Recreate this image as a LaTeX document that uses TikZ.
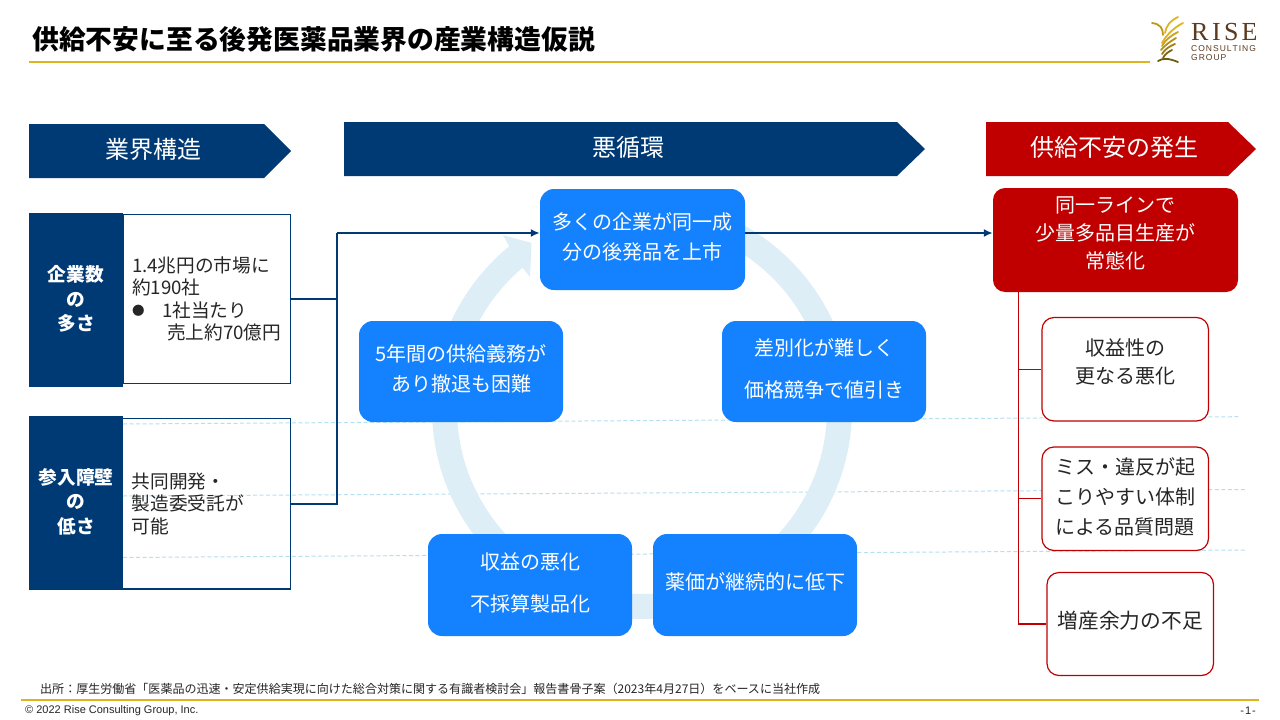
\documentclass[tikz,border=0pt]{standalone}
\usepackage{fontspec}
\setmainfont{Noto Sans CJK JP}
\newfontfamily\lib{Liberation Sans}
\newfontfamily\libs{Liberation Serif}
\usetikzlibrary{arrows.meta}
\definecolor{navy}{HTML}{003A75}
\definecolor{bluebox}{HTML}{1482FF}
\definecolor{redbox}{HTML}{C00000}
\definecolor{ringc}{HTML}{DEEEF7}
\definecolor{gold}{HTML}{E0B41E}
\definecolor{dashc}{HTML}{B5E0F2}
\definecolor{logob}{HTML}{5B3A1E}
\definecolor{ink}{HTML}{262626}
\newcommand\pad[1]{\rule[-#1]{0pt}{#1}}
\newcommand\fs[2]{\fontsize{#1}{#2}\selectfont}
\tikzset{
  x=1pt,y=-1pt,
  goldline/.style={draw=gold,line width=2pt},
  dashline/.style={draw=dashc,line width=1pt,dash pattern=on 4pt off 2.5pt},
  headtxt/.style={text=white,font=\fs{24}{30}},
  darkbox/.style={fill=navy,text=white,minimum width=94pt,inner sep=0pt,align=center,font=\bfseries\fs{18.67}{24.5}},
  whitebox/.style={draw=navy,line width=1.2pt,minimum width=167.5pt,text width=149.5pt,inner xsep=9pt,inner ysep=0pt,align=left,text=ink,font=\fs{18.67}{22.4}},
  cycbox/.style={fill=bluebox,rounded corners=14pt,minimum width=204pt,inner sep=0pt,align=center,text=white},
  redmain/.style={fill=redbox,rounded corners=12pt,minimum width=245pt,minimum height=104pt,inner sep=0pt,align=center,text=white,font=\fs{20}{28}},
  childbox/.style={draw=redbox,fill=white,line width=1.2pt,rounded corners=12pt,minimum width=166.5pt,inner sep=0pt,align=center,text=ink},
  conn/.style={draw=navy,line width=2pt},
  redconn/.style={draw=redbox,line width=1.3pt},
  leaf/.style={draw=#1,line width=1.8pt,line cap=round},
  smalltxt/.style={inner sep=0pt,text=ink},
}
\begin{document}
\begin{tikzpicture}
\useasboundingbox (0,0) rectangle (1280,720);
\fill[white] (0,0) rectangle (1280,720);

% title and rules
\node[anchor=west,inner sep=0pt,font=\bfseries\fs{26.8}{30},text=black] (title) at (32,39) {供給不安に至る後発医薬品業界の産業構造仮説};
\coordinate (g1a) at (29,62); \coordinate (g1b) at (1150,62);
\draw[goldline] (g1a) -- (g1b);
\coordinate (g2a) at (21,700); \coordinate (g2b) at (1259,700);
\draw[goldline] (g2a) -- (g2b);

% logo
\draw[leaf=gold!85!black] (1152,23) .. controls (1160,24) and (1163,28) .. (1163,35);
\draw[leaf=gold] (1178,17) .. controls (1170,21) and (1166,26) .. (1165,33);
\draw[leaf=gold] (1183,23) .. controls (1175,27) and (1167,34) .. (1162,43);
\draw[leaf=gold!90!black] (1178,32) .. controls (1172,35) and (1166,39) .. (1162,46);
\draw[leaf=gold!80!black] (1176,38) .. controls (1171,41) and (1165,45) .. (1161,50);
\draw[leaf=gold!70!black] (1175,44) .. controls (1170,46) and (1165,49) .. (1162,54);
\draw[leaf=gold!55!black] (1172,50) .. controls (1168,52) and (1165,54) .. (1163,58);
\draw[leaf=gold!50!black] (1158,61) .. controls (1163,58) and (1168,58) .. (1178,62);
\node[inner sep=0pt,anchor=west,text=logob,font=\libs\fs{26}{27}] (lrise) at (1191,32) {R\hspace{3.5pt}I\hspace{3.5pt}S\hspace{3pt}E};
\node[inner sep=0pt,anchor=west,text=logob,font=\lib\fs{8.5}{9}] (lcons) at (1191,49) {C\hspace{1pt}O\hspace{1pt}N\hspace{1pt}S\hspace{1pt}U\hspace{1pt}L\hspace{1pt}T\hspace{1pt}I\hspace{1pt}N\hspace{1pt}G};
\node[inner sep=0pt,anchor=west,text=logob,font=\lib\fs{8.5}{9}] (lgroup) at (1191,58) {G\hspace{1pt}R\hspace{1pt}O\hspace{1pt}U\hspace{1pt}P};

% dashed guide lines (behind everything)
\coordinate (d1a) at (123,424); \coordinate (d1b) at (1238,416.7);
\coordinate (d2a) at (123,496); \coordinate (d2b) at (1245,489.5);
\coordinate (d3a) at (123,557.5); \coordinate (d3b) at (1245,550);
\draw[dashline] (d1a) -- (d1b);
\draw[dashline] (d2a) -- (d2b);
\draw[dashline] (d3a) -- (d3b);

% section chevrons
\fill[navy] (29,124) -- (264,124) -- (291,151) -- (264,178) -- (29,178) -- cycle;
\node[headtxt] (h1) at (153,149) {業界構造};
\fill[navy] (344,122) -- (897,122) -- (925,149) -- (897,176) -- (344,176) -- cycle;
\node[headtxt] (h2) at (628.5,147) {悪循環};
\fill[redbox] (986,122) -- (1228,122) -- (1256,149) -- (1228,176) -- (986,176) -- cycle;
\node[headtxt] (h3) at (1114,147) {供給不安の発生};

% left factor boxes
\node[whitebox,minimum height=169pt] (w1) at (206.75,299) {1.4兆円の市場に\\約190社\\\makebox[30pt][l]{\raisebox{1.5pt}{\fs{12.5}{12.5}●}}1社当たり\\\hspace*{35pt}売上約70億円\pad{2pt}};
\node[whitebox,minimum height=170.5pt] (w2) at (206.5,503.75) {共同開発・\\製造委受託が\\可能};
\node[darkbox,minimum height=174pt] (k1) at (76,300) {企業数\\の\\多さ\pad{4pt}};
\node[darkbox,minimum height=174pt] (k2) at (76,503) {参入障壁\\の\\低さ\pad{4pt}};

% cycle ring
\coordinate (rc) at (642,409);
\draw[ringc,line width=25pt] ([shift={(90:197.5pt)}]rc) arc[start angle=90,end angle=-232,radius=197.5pt];
\fill[ringc] (503,235) -- (531.5,243) -- (530,277) -- (522,267) -- (509,246) -- cycle;

% cycle boxes
\node[cycbox,minimum width=205pt,minimum height=101pt,font=\fs{20}{30}] (n1) at (642.5,239.5) {多くの企業が同一成\\分の後発品を上市\pad{7pt}};
\node[cycbox,minimum height=101pt,font=\fs{20}{42}] (n2) at (824,371.5) {差別化が難しく\\価格競争で値引き\pad{7pt}};
\node[cycbox,minimum height=102pt,font=\fs{20}{30}] (n3) at (755,585) {薬価が継続的に低下\pad{8pt}};
\node[cycbox,minimum height=102pt,font=\fs{20}{42}] (n4) at (530,585) {収益の悪化\\不採算製品化\pad{6pt}};
\node[cycbox,minimum height=101pt,font=\fs{20}{30}] (n5) at (461,371.5) {5年間の供給義務が\\あり撤退も困難\pad{7pt}};

% right column
\node[redmain] (red) at (1115.5,240) {同一ラインで\\少量多品目生産が\\常態化\pad{15pt}};
\node[childbox,minimum height=103.5pt,font=\fs{20}{28}] (b1) at (1125.25,369.25) {収益性の\\更なる悪化\pad{16pt}};
\node[childbox,minimum height=103.5pt,font=\fs{20}{30}] (b2) at (1125.25,498.75) {ミス・違反が起\\こりやすい体制\\による品質問題\pad{6pt}};
\node[childbox,minimum height=103pt,font=\fs{20.7}{28}] (b3) at (1130.25,624) {増産余力の不足\pad{8pt}};

% connectors
\coordinate (j) at (337,233);
\draw[conn] (w1.east) -| (j);
\draw[conn] (w2.east) -| (j);
\draw[conn,-{Latex[length=9pt,width=8pt]}] (j) -- (n1.west |- j);
\draw[conn,-{Latex[length=9pt,width=8pt]}] (n1.east |- j) -- (red.west |- j);
\coordinate (sp) at (1018.5,292);
\draw[redconn] (sp) |- (b1.west);
\draw[redconn] (sp) |- (b2.west);
\draw[redconn] (sp) |- (b3.west);

% footer
\node[smalltxt,anchor=west,font=\fs{12.03}{14}] (src) at (40,689) {出所：厚生労働省「医薬品の迅速・安定供給実現に向けた総合対策に関する有識者検討会」報告書骨子案（2023年4月27日）をベースに当社作成};
\node[smalltxt,anchor=west,font=\lib\fs{11}{12}] (copy) at (25,710.5) {© 2022 Rise Consulting Group, Inc.};
\node[smalltxt,anchor=east,font=\lib\fs{11}{12}] (page) at (1256,710.5) {-\hspace{1pt}1\hspace{1pt}-};
\end{tikzpicture}
\end{document}
